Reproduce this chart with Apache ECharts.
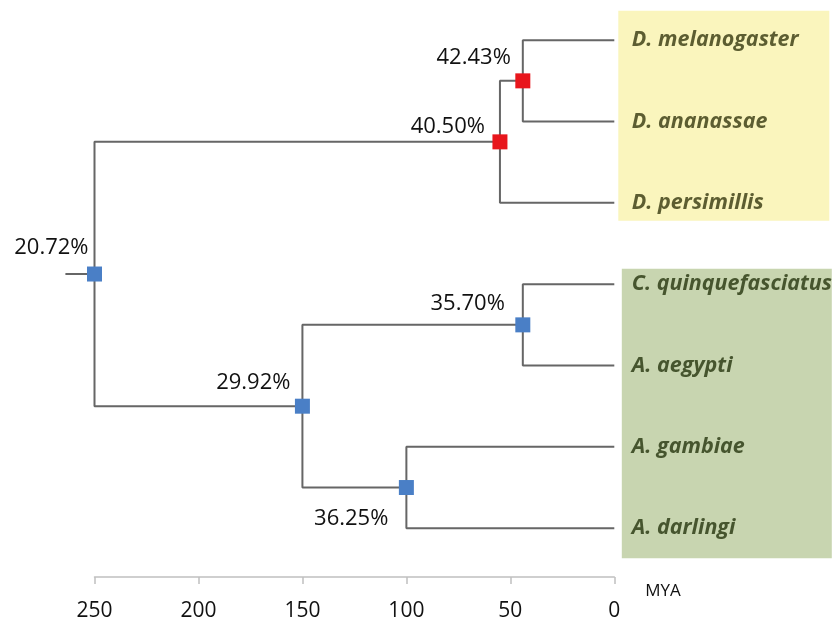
<!DOCTYPE html>
<html>
<head>
<meta charset="utf-8">
<script src="https://cdn.jsdelivr.net/npm/echarts@6/dist/echarts.min.js"></script>
<style>
html,body{margin:0;padding:0;background:#fff;}
#chart{width:837px;height:622px;}
</style>
</head>
<body>
<div id="chart"></div>
<script>
// ---- data ----
const species = ['D. melanogaster', 'D. ananassae', 'D. persimillis', 'C. quinquefasciatus', 'A. aegypti', 'A. gambiae', 'A. darlingi'];
const speciesGroup = ['drosophila', 'drosophila', 'drosophila', 'mosquito', 'mosquito', 'mosquito', 'mosquito'];
const nodeIds = ['root', 'dros', 'melAna', 'mosq', 'culAed', 'anoph'];
const nodeAges = [250, 55, 44, 150, 44, 100];           // MYA
const nodeSupport = ['20.72%', '40.50%', '42.43%', '29.92%', '35.70%', '36.25%'];
const nodeGroup = ['mosquito', 'drosophila', 'drosophila', 'mosquito', 'mosquito', 'mosquito'];
const nodeChildren = [
  ['dros', 'mosq'],
  ['melAna', 'D. persimillis'],
  ['D. melanogaster', 'D. ananassae'],
  ['culAed', 'anoph'],
  ['C. quinquefasciatus', 'A. aegypti'],
  ['A. gambiae', 'A. darlingi']
];
const rootStubAge = 264;
const xTicks = [250, 200, 150, 100, 50, 0];
const axisName = 'MYA';

// ---- layout/style (not data) ----
const labelPos = {  // [right edge dx, center dy] relative to node centre
  root: [-6, -26], dros: [-15, -15], melAna: [-12, -23],
  mosq: [-12, -23], culAed: [-18, -21], anoph: [-18, 31]
};
const nodeColor = {drosophila: '#e8161c', mosquito: '#4a7fc6'};
const textColor = {drosophila: '#35370e', mosquito: '#26340e'};
const FONT = 'Open Sans';

// ---- build tree positions ----
const pos = {};
species.forEach((s, i) => { pos[s] = {x: 0, y: i}; });
function place(id) {
  if (pos[id]) return pos[id];
  const k = nodeIds.indexOf(id);
  const ch = nodeChildren[k].map(place);
  pos[id] = {x: nodeAges[k], y: (ch[0].y + ch[ch.length - 1].y) / 2};
  return pos[id];
}
nodeIds.forEach(place);

const lineStyle = {color: '#666666', width: 2};
const series = [];
nodeIds.forEach((id, k) => {
  const p = pos[id];
  nodeChildren[k].forEach(c => {
    const q = pos[c];
    series.push({
      type: 'line', data: [[p.x, p.y], [p.x, q.y], [q.x, q.y]],
      showSymbol: false, symbol: 'none', lineStyle: lineStyle, clip: false,
      silent: true, animation: false, z: 2
    });
  });
});
// node squares
series.push({
  type: 'scatter', symbol: 'rect', symbolSize: 15, animation: false, z: 5,
  data: nodeIds.map((id, k) => ({
    value: [pos[id].x, pos[id].y],
    itemStyle: {color: nodeColor[nodeGroup[k]], opacity: 1},
    label: {
      show: true, formatter: nodeSupport[k],
      position: [7.5 + labelPos[id][0], 7.5 + labelPos[id][1]],
      align: 'right', verticalAlign: 'middle',
      fontFamily: FONT, fontSize: 22, color: '#111111'
    }
  }))
});
// species labels
series.push({
  type: 'scatter', symbolSize: 1, animation: false, z: 6,
  itemStyle: {color: 'transparent'},
  data: species.map((s, i) => ({
    value: [0, i],
    label: {
      show: true, formatter: s, position: 'right', distance: 17,
      fontFamily: FONT, fontStyle: 'italic', fontWeight: 'bold',
      fontSize: 21.5, color: textColor[speciesGroup[i]]
    }
  }))
});

const chart = echarts.init(document.getElementById('chart'), null, {renderer: 'canvas'});
const option = {
  backgroundColor: '#ffffff',
  animation: false,
  grid: {left: 94.5, right: 222.7, top: 7.65, height: 571.3, containLabel: false},
  xAxis: {
    type: 'value', inverse: true, min: 0, max: 250, interval: 50, position: 'bottom',
    axisLine: {show: true, onZero: false, lineStyle: {color: '#c0c0c0', width: 1.5}},
    axisTick: {show: true, length: 7, inside: false, lineStyle: {color: '#c0c0c0', width: 1.5}},
    axisLabel: {
      margin: 24, fontFamily: FONT, fontSize: 21, color: '#111111',
      customValues: xTicks, formatter: v => String(v)
    },
    splitLine: {show: false}
  },
  yAxis: {
    type: 'value', inverse: true, min: -0.4, max: 6.6, show: false
  },
  series: series
};
chart.setOption(option);

// decorations: background boxes, root stub, axis name
function px(x, y) { return chart.convertToPixel({gridIndex: 0}, [x, y]); }
const a0 = px(0, 0), a2 = px(0, 2), b3 = px(0, 3), b6 = px(0, 6);
const r0 = px(rootStubAge, pos.root.y), r1 = px(pos.root.x, pos.root.y);
chart.setOption({
  graphic: [
    {type: 'rect', z: -10, silent: true,
     shape: {x: a0[0] + 4, y: a0[1] - 29.5, width: 211, height: (a2[1] + 18) - (a0[1] - 29.5)},
     style: {fill: '#faf5bd'}},
    {type: 'rect', z: -10, silent: true,
     shape: {x: b3[0] + 7.5, y: b3[1] - 15.5, width: 210, height: (b6[1] + 30) - (b3[1] - 15.5)},
     style: {fill: '#c8d5b0'}},
    {type: 'line', z: 1, silent: true,
     shape: {x1: r0[0], y1: r0[1], x2: r1[0], y2: r1[1]},
     style: {stroke: '#666666', lineWidth: 2}},
    {type: 'text', z: 10, silent: true,
     x: a0[0] + 31, y: b6[1] + 63,
     style: {text: axisName, fontFamily: FONT, fontSize: 17, fill: '#111111',
             textAlign: 'left', textVerticalAlign: 'middle'}}
  ]
});
</script>
</body>
</html>
